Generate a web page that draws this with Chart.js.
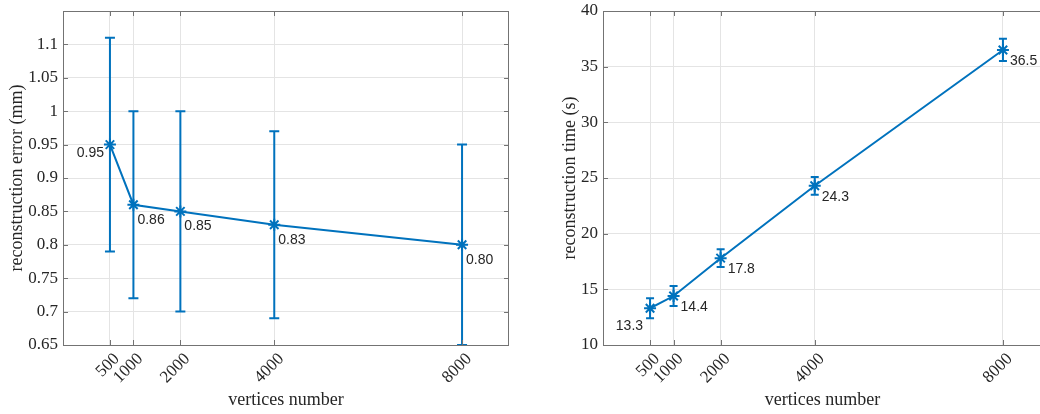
<!DOCTYPE html>
<html>
<head>
<meta charset="utf-8">
<script src="https://cdn.jsdelivr.net/npm/chart.js@4.4.1/dist/chart.umd.min.js"></script>
<style>
  body { margin: 0; background: #fff; width: 1040px; height: 414px; overflow: hidden; position: relative; }
  canvas { position: absolute; top: 0; }
  #errChart { left: 0; }
  #timeChart { left: 540px; }
</style>
</head>
<body>
<canvas id="errChart" width="520" height="414"></canvas>
<canvas id="timeChart" width="510" height="414"></canvas>
<script>
// data
const vertices = [500, 1000, 2000, 4000, 8000];

const errMean = [0.95, 0.86, 0.85, 0.83, 0.80];
const errLow = [0.79, 0.72, 0.70, 0.69, 0.65];
const errHigh = [1.11, 1.00, 1.00, 0.97, 0.95];

const timeMean = [13.3, 14.4, 17.8, 24.3, 36.5];
const timeLow = [12.4, 13.5, 17.0, 23.5, 35.5];
const timeHigh = [14.2, 15.3, 18.6, 25.1, 37.5];

const blue = '#0072BD';
const axisColor = '#737373';
const gridColor = '#e4e4e4';
const textColor = '#262626';
const serif = "'Liberation Serif', 'Times New Roman', serif";

// error bars, matlab-like box with inward ticks, value labels
const matlabAxes = {
    id: 'matlabAxes',
    beforeDatasetsDraw(chart, args, opts) {
        const { ctx, scales: { x, y } } = chart;
        ctx.save();
        ctx.strokeStyle = blue;
        ctx.lineWidth = 2;
        opts.low.forEach((lo, i) => {
            const px = x.getPixelForValue(vertices[i]);
            const y1 = y.getPixelForValue(lo);
            const y2 = y.getPixelForValue(opts.high[i]);
            ctx.beginPath();
            ctx.moveTo(px, y1); ctx.lineTo(px, y2);
            ctx.moveTo(px - opts.cap, y1); ctx.lineTo(px + opts.cap, y1);
            ctx.moveTo(px - opts.cap, y2); ctx.lineTo(px + opts.cap, y2);
            ctx.stroke();
        });
        ctx.restore();
    },
    afterDraw(chart, args, opts) {
        const { ctx, chartArea: a, scales: { x, y } } = chart;
        ctx.save();
        ctx.strokeStyle = axisColor;
        ctx.lineWidth = 1;
        ctx.beginPath();
        ctx.moveTo(a.left + 0.5, a.top + 0.5);
        ctx.lineTo(a.left + 0.5, a.bottom + 0.5);
        ctx.lineTo(a.right, a.bottom + 0.5);
        ctx.moveTo(a.left, a.top + 0.5);
        ctx.lineTo(a.right, a.top + 0.5);
        if (opts.rightEdge) {
            ctx.moveTo(a.right - 0.5, a.top);
            ctx.lineTo(a.right - 0.5, a.bottom);
        }
        // inward ticks
        const t = 5;
        x.ticks.forEach(tk => {
            const px = Math.round(x.getPixelForValue(tk.value)) + 0.5;
            ctx.moveTo(px, a.bottom); ctx.lineTo(px, a.bottom - t);
            ctx.moveTo(px, a.top); ctx.lineTo(px, a.top + t);
        });
        y.ticks.forEach(tk => {
            const py = Math.round(y.getPixelForValue(tk.value)) + 0.5;
            ctx.moveTo(a.left, py); ctx.lineTo(a.left + t, py);
            if (opts.rightEdge) {
                ctx.moveTo(a.right, py); ctx.lineTo(a.right - t, py);
            }
        });
        ctx.stroke();

        // value labels
        ctx.fillStyle = textColor;
        ctx.font = "14px 'Liberation Sans', Arial, sans-serif";
        ctx.textBaseline = 'middle';
        const meta = chart.getDatasetMeta(0);
        meta.data.forEach((pt, i) => {
            const first = i === 0;
            const off = first ? opts.firstOffset : opts.offset;
            ctx.textAlign = first ? 'right' : 'left';
            ctx.fillText(opts.fmt(chart.data.datasets[0].data[i].y), pt.x + off[0], pt.y + off[1]);
        });
        ctx.restore();
    }
};

function makeChart(id, mean, low, high, yCfg, pluginCfg) {
    const ctx = document.getElementById(id).getContext('2d');
    return new Chart(ctx, {
        type: 'line',
        data: {
            datasets: [{
                data: vertices.map((v, i) => ({ x: v, y: mean[i] })),
                borderColor: blue,
                backgroundColor: blue,
                borderWidth: 2,
                pointStyle: 'star',
                pointRadius: 6,
                pointBorderWidth: 2,
                tension: 0,
                fill: false
            }]
        },
        options: {
            responsive: false,
            animation: false,
            devicePixelRatio: 1,
            layout: { padding: { top: 11, right: pluginCfg.rightPad, left: 0, bottom: 0 } },
            plugins: {
                legend: { display: false },
                tooltip: { enabled: false },
                matlabAxes: Object.assign({ low: low, high: high }, pluginCfg)
            },
            scales: {
                x: {
                    type: 'linear',
                    min: -500,
                    max: pluginCfg.xMax,
                    afterBuildTicks: s => { s.ticks = vertices.map(v => ({ value: v })); },
                    afterFit: s => { s.height = 69; s.paddingLeft = 0; s.paddingRight = 0; },
                    grid: { color: gridColor, drawTicks: false },
                    border: { display: false },
                    ticks: {
                        color: textColor,
                        font: { family: serif, size: 17 },
                        minRotation: 45,
                        maxRotation: 45,
                        padding: 4,
                        labelOffset: 7,
                        callback: v => String(v)
                    },
                    title: {
                        display: true,
                        text: 'vertices number',
                        color: textColor,
                        font: { family: serif, size: 18 },
                        padding: { top: 0, bottom: 3 }
                    }
                },
                y: {
                    min: yCfg.min,
                    max: yCfg.max,
                    afterFit: s => { s.width = 63; s.paddingTop = 0; s.paddingBottom = 0; },
                    grid: { color: gridColor, drawTicks: false },
                    border: { display: false },
                    ticks: {
                        stepSize: yCfg.step,
                        color: textColor,
                        font: { family: serif, size: 17 },
                        padding: 5,
                        callback: yCfg.fmt
                    },
                    title: {
                        display: true,
                        text: yCfg.title,
                        color: textColor,
                        font: { family: serif, size: 18 },
                        padding: { top: yCfg.titlePad, bottom: 0 }
                    }
                }
            }
        },
        plugins: [matlabAxes]
    });
}

makeChart('errChart', errMean, errLow, errHigh, {
    min: 0.65, max: 1.15, step: 0.05, titlePad: 6,
    title: 'reconstruction error (mm)',
    fmt: v => v > 1.12 ? '' : String(+v.toFixed(2))
}, {
    xMax: 9000, rightPad: 11, rightEdge: true, cap: 5,
    offset: [4, 15], firstOffset: [-6, 9],
    fmt: v => v.toFixed(2)
});

makeChart('timeChart', timeMean, timeLow, timeHigh, {
    min: 10, max: 40, step: 5, titlePad: 19,
    title: 'reconstruction time (s)',
    fmt: v => String(v)
}, {
    xMax: 8830, rightPad: 0, rightEdge: false, cap: 4,
    offset: [7, 11], firstOffset: [-7, 18],
    fmt: v => v.toFixed(1)
});
</script>
</body>
</html>
